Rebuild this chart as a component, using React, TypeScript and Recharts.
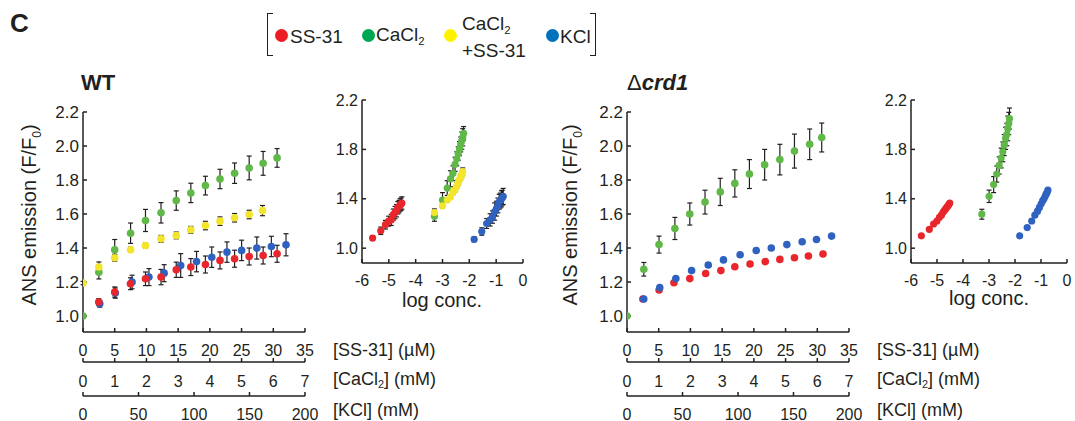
import React from "react";
import { ScatterChart, Scatter, XAxis, YAxis, ErrorBar } from "recharts";

const INK = "#231f20";
const FONT = "'Liberation Sans', Arial, Helvetica, sans-serif";

const RED = "#e8262b";
const GREEN = "#5fb848";
const YELLOW = "#f3e52a";
const BLUE = "#2f62c0";

// ---- WT ----
// SS-31 (µM)
const wtSsConc = [2.48, 5.0, 7.48, 9.85, 12.3, 14.7, 17.0, 19.3, 21.6, 23.9, 26.2, 28.4, 30.6];
const wtSsVal = [1.082, 1.141, 1.19, 1.219, 1.229, 1.272, 1.288, 1.303, 1.327, 1.337, 1.35, 1.356, 1.366];
const wtSsErr = [0.02, 0.03, 0.035, 0.04, 0.045, 0.045, 0.05, 0.05, 0.05, 0.05, 0.05, 0.05, 0.05];
// CaCl2 (mM)
const wtCaConc = [0, 0.5, 1.0, 1.5, 1.97, 2.46, 2.94, 3.4, 3.86, 4.32, 4.78, 5.24, 5.68, 6.12];
const wtCaVal = [1.0, 1.258, 1.39, 1.487, 1.562, 1.607, 1.679, 1.724, 1.767, 1.806, 1.84, 1.871, 1.898, 1.93];
const wtCaErr = [0, 0.04, 0.06, 0.06, 0.065, 0.06, 0.057, 0.057, 0.055, 0.057, 0.06, 0.07, 0.07, 0.055];
// CaCl2 + SS-31 (mM CaCl2)
const wtMixConc = [0, 0.5, 1.0, 1.5, 1.97, 2.46, 2.94, 3.4, 3.86, 4.32, 4.78, 5.24, 5.66];
const wtMixVal = [1.194, 1.288, 1.343, 1.39, 1.415, 1.454, 1.474, 1.507, 1.532, 1.558, 1.578, 1.597, 1.62];
const wtMixErr = [0.01, 0.03, 0.02, 0.015, 0.015, 0.02, 0.02, 0.02, 0.025, 0.025, 0.025, 0.025, 0.03];
// KCl (mM)
const wtKConc = [15.1, 29.1, 44.2, 59.4, 73.1, 88.0, 102.3, 116.0, 129.7, 142.9, 156.6, 169.7, 182.9];
const wtKVal = [1.072, 1.135, 1.2, 1.229, 1.252, 1.297, 1.32, 1.346, 1.376, 1.386, 1.4, 1.409, 1.419];
const wtKErr = [0.02, 0.03, 0.04, 0.05, 0.05, 0.07, 0.06, 0.06, 0.06, 0.06, 0.065, 0.06, 0.065];

// ---- Δcrd1 ----
const crdSsConc = [2.5, 5.06, 7.4, 9.9, 12.4, 14.8, 17.0, 19.4, 21.8, 24.1, 26.4, 28.6, 30.9];
const crdSsVal = [1.1, 1.153, 1.196, 1.22, 1.25, 1.267, 1.29, 1.306, 1.32, 1.333, 1.343, 1.353, 1.365];
const crdSsErr = [0.01, 0.01, 0.01, 0.01, 0.01, 0.01, 0.01, 0.01, 0.01, 0.01, 0.01, 0.01, 0.01];
const crdCaConc = [0, 0.53, 1.01, 1.51, 1.98, 2.46, 2.94, 3.4, 3.86, 4.34, 4.82, 5.28, 5.76, 6.14];
const crdCaVal = [1.0, 1.275, 1.42, 1.515, 1.6, 1.67, 1.73, 1.78, 1.835, 1.89, 1.92, 1.97, 2.01, 2.05];
const crdCaErr = [0, 0.04, 0.05, 0.065, 0.065, 0.07, 0.08, 0.08, 0.085, 0.09, 0.09, 0.1, 0.09, 0.085];
const crdKConc = [15.1, 29.5, 44, 58.2, 73.2, 86.9, 101.9, 116.4, 130, 144, 157.8, 170.7, 184.3];
const crdKVal = [1.1, 1.167, 1.22, 1.267, 1.3, 1.33, 1.36, 1.385, 1.4, 1.42, 1.437, 1.45, 1.47];
const crdKErr = [0.01, 0.01, 0.01, 0.01, 0.01, 0.01, 0.01, 0.01, 0.01, 0.01, 0.01, 0.01, 0.01];

// ---- ticks ----
const ssTicks = [0, 5, 10, 15, 20, 25, 30, 35];
const caTicks = [0, 1, 2, 3, 4, 5, 6, 7];
const kTicks = [0, 50, 100, 150, 200];
const mainYTicks = [1.0, 1.2, 1.4, 1.6, 1.8, 2.0, 2.2];
const insetYTicks = [1.0, 1.4, 1.8, 2.2];
const logTicks = [1e-6, 1e-5, 1e-4, 1e-3, 1e-2, 1e-1, 1];

interface Pt {
  c: number;
  v: number;
  e: number;
}

// axis ids sort in stacking order: a = SS-31 (next to plot), b = CaCl2, c = KCl
interface Series {
  name: string;
  axis: "a" | "b" | "c";
  unit: number; // to molar
  color: string;
  data: Pt[];
}

function toPoints(conc: number[], val: number[], err: number[]): Pt[] {
  return conc.map((c, i) => ({ c, v: val[i], e: err[i] }));
}

const wtSeries: Series[] = [
  { name: "KCl", axis: "c", unit: 1e-3, color: BLUE, data: toPoints(wtKConc, wtKVal, wtKErr) },
  { name: "SS-31", axis: "a", unit: 1e-6, color: RED, data: toPoints(wtSsConc, wtSsVal, wtSsErr) },
  { name: "CaCl2", axis: "b", unit: 1e-3, color: GREEN, data: toPoints(wtCaConc, wtCaVal, wtCaErr) },
  { name: "CaCl2+SS-31", axis: "b", unit: 1e-3, color: YELLOW, data: toPoints(wtMixConc, wtMixVal, wtMixErr) },
];

const crdSeries: Series[] = [
  { name: "SS-31", axis: "a", unit: 1e-6, color: RED, data: toPoints(crdSsConc, crdSsVal, crdSsErr) },
  { name: "KCl", axis: "c", unit: 1e-3, color: BLUE, data: toPoints(crdKConc, crdKVal, crdKErr) },
  { name: "CaCl2", axis: "b", unit: 1e-3, color: GREEN, data: toPoints(crdCaConc, crdCaVal, crdCaErr) },
];

type Layer = "bars" | "dots";

function dot(color: string, r: number) {
  return (p: any) => <circle cx={p.cx} cy={p.cy} r={r} fill={color} />;
}

const noDot = () => <g />;
const noTick = () => <g />;

function xTick(dy: number, fontSize: number, fmt: (v: number) => string) {
  return (p: any) => (
    <g>
      <line x1={p.x} x2={p.x} y1={p.y} y2={p.y - 4} stroke={INK} strokeWidth={1.5} />
      <text
        x={p.x}
        y={p.y + dy}
        textAnchor="middle"
        dominantBaseline="central"
        fontSize={fontSize}
        fontFamily={FONT}
        fill={INK}
      >
        {fmt(p.payload.value)}
      </text>
    </g>
  );
}

function yTick(fontSize: number) {
  return (p: any) => (
    <g>
      <line x1={p.x} x2={p.x + 4} y1={p.y} y2={p.y} stroke={INK} strokeWidth={1.5} />
      <text
        x={p.x - 4}
        y={p.y}
        textAnchor="end"
        dominantBaseline="central"
        fontSize={fontSize}
        fontFamily={FONT}
        fill={INK}
      >
        {Number(p.payload.value).toFixed(1)}
      </text>
    </g>
  );
}

const axisLine = { stroke: INK, strokeWidth: 1.5 };
const plain = (v: number) => String(v);
const logFmt = (v: number) => String(Math.round(Math.log10(v)));

// Each panel is drawn twice on the same spot: the bottom chart carries the axes and
// error bars, the top one (same axes, invisible) carries the markers so they cover the bars.
function renderSeries(series: Series[], layer: Layer, r: number, toData: (s: Series) => any[], withAxis: boolean) {
  return series.map((s) => (
    <Scatter
      key={s.name}
      name={s.name}
      xAxisId={withAxis ? s.axis : 0}
      data={toData(s)}
      fill={s.color}
      shape={layer === "dots" ? dot(s.color, r) : noDot}
      isAnimationActive={false}
    >
      {layer === "bars" && (
        // width is the half-width of the cap
        <ErrorBar dataKey="e" direction="y" width={2.5} stroke={INK} strokeWidth={1.2} isAnimationActive={false} />
      )}
    </Scatter>
  ));
}

function MainChart({ series, layer }: { series: Series[]; layer: Layer }) {
  const show = layer === "bars";
  const xAxes: [string, number[], number, number][] = [
    ["a", ssTicks, 30, 18],
    ["b", caTicks, 34, 19],
    ["c", kTicks, 25, 18],
  ];
  return (
    <div style={{ position: "absolute", left: 0, top: 0 }}>
      <ScatterChart width={325} height={321} margin={{ top: 12, right: 20, left: 0, bottom: 0 }}>
        {xAxes.map(([id, ticks, height, dy]) => (
          <XAxis
            key={id}
            xAxisId={id}
            type="number"
            dataKey="c"
            domain={[0, ticks[ticks.length - 1]]}
            ticks={ticks}
            interval={0}
            height={height}
            tickSize={0}
            tickMargin={0}
            tickLine={false}
            axisLine={show ? axisLine : false}
            tick={show ? xTick(dy, 16, plain) : noTick}
            allowDataOverflow
          />
        ))}
        <YAxis
          type="number"
          dataKey="v"
          domain={[0.906, 2.2]}
          ticks={mainYTicks}
          interval={0}
          width={83}
          tickSize={0}
          tickMargin={0}
          tickLine={false}
          axisLine={show ? axisLine : false}
          tick={show ? yTick(17) : noTick}
          allowDataOverflow
        />
        {renderSeries(series, layer, 3.8, (s) => s.data, true)}
      </ScatterChart>
    </div>
  );
}

function MainPanel({ left, series }: { left: number; series: Series[] }) {
  return (
    <div style={{ position: "absolute", left, top: 100 }}>
      <MainChart series={series} layer="bars" />
      <MainChart series={series} layer="dots" />
    </div>
  );
}

function InsetChart({ plotWidth, series, layer }: { plotWidth: number; series: Series[]; layer: Layer }) {
  const show = layer === "bars";
  const toMolar = (s: Series) =>
    s.data.filter((p) => p.c > 0).map((p) => ({ m: p.c * s.unit, v: p.v, e: p.e }));
  return (
    <div style={{ position: "absolute", left: 0, top: 0 }}>
      <ScatterChart width={40 + plotWidth + 12} height={213} margin={{ top: 10, right: 12, left: 0, bottom: 0 }}>
        <XAxis
          type="number"
          dataKey="m"
          scale="log"
          domain={[1e-6, 1]}
          ticks={logTicks}
          interval={0}
          height={40}
          tickSize={0}
          tickMargin={0}
          tickLine={false}
          axisLine={show ? axisLine : false}
          tick={show ? xTick(17, 16, logFmt) : noTick}
          allowDataOverflow
        />
        <YAxis
          type="number"
          dataKey="v"
          domain={[0.88, 2.2]}
          ticks={insetYTicks}
          interval={0}
          width={40}
          tickSize={0}
          tickMargin={0}
          tickLine={false}
          axisLine={show ? axisLine : false}
          tick={show ? yTick(16) : noTick}
          allowDataOverflow
        />
        {renderSeries(series, layer, 3.6, toMolar, false)}
      </ScatterChart>
    </div>
  );
}

function InsetPanel({ left, plotWidth, series }: { left: number; plotWidth: number; series: Series[] }) {
  return (
    <div style={{ position: "absolute", left, top: 90 }}>
      <InsetChart plotWidth={plotWidth} series={series} layer="bars" />
      <InsetChart plotWidth={plotWidth} series={series} layer="dots" />
    </div>
  );
}

function Txt({
  x,
  y,
  size,
  children,
  anchor = "start",
  bold = false,
}: {
  x: number;
  y: number;
  size: number;
  children: React.ReactNode;
  anchor?: "start" | "middle";
  bold?: boolean;
}) {
  return (
    <div
      style={{
        position: "absolute",
        left: x,
        top: y,
        transform: `translate(${anchor === "middle" ? "-50%" : "0"}, -50%)`,
        fontSize: size,
        lineHeight: 1,
        whiteSpace: "nowrap",
        fontWeight: bold ? 700 : 400,
        color: INK,
      }}
    >
      {children}
    </div>
  );
}

const Sub = ({ children }: { children: React.ReactNode }) => (
  <span style={{ fontSize: "0.6em", verticalAlign: "-0.35em" }}>{children}</span>
);

function YTitle({ x, y }: { x: number; y: number }) {
  return (
    <div
      style={{
        position: "absolute",
        left: x,
        top: y,
        transform: "translate(-50%, -50%) rotate(-90deg)",
        fontSize: 20,
        lineHeight: 1,
        whiteSpace: "nowrap",
        color: INK,
      }}
    >
      ANS emission (F/F<Sub>0</Sub>)
    </div>
  );
}

function UnitLabels({ x }: { x: number }) {
  return (
    <>
      <Txt x={x} y={350} size={18}>[SS-31] (µM)</Txt>
      <Txt x={x} y={380} size={18}>
        [CaCl<Sub>2</Sub>] (mM)
      </Txt>
      <Txt x={x} y={410} size={18}>[KCl] (mM)</Txt>
    </>
  );
}

function LegendDot({ x, color }: { x: number; color: string }) {
  return (
    <div
      style={{
        position: "absolute",
        left: x - 6.5,
        top: 35 - 6.5,
        width: 13,
        height: 13,
        borderRadius: "50%",
        background: color,
      }}
    />
  );
}

function Legend() {
  const bracket = (side: "left" | "right", x: number) => (
    <div
      style={{
        position: "absolute",
        left: x,
        top: 13,
        width: 6,
        height: 43,
        borderTop: `1.5px solid ${INK}`,
        borderBottom: `1.5px solid ${INK}`,
        [side === "left" ? "borderLeft" : "borderRight"]: `1.5px solid ${INK}`,
        boxSizing: "border-box",
      }}
    />
  );
  return (
    <>
      {bracket("left", 267)}
      {bracket("right", 590)}
      <LegendDot x={281} color="#ed1c24" />
      <Txt x={290} y={36} size={19}>SS-31</Txt>
      <LegendDot x={368} color="#00a651" />
      <Txt x={376} y={36} size={19}>
        CaCl<Sub>2</Sub>
      </Txt>
      <LegendDot x={450} color="#fff200" />
      <Txt x={462} y={25} size={19}>
        CaCl<Sub>2</Sub>
      </Txt>
      <Txt x={462} y={50} size={19}>+SS-31</Txt>
      <LegendDot x={552} color="#0072bc" />
      <Txt x={560} y={36} size={19}>KCl</Txt>
    </>
  );
}

export default function App() {
  return (
    <div
      style={{
        position: "absolute",
        left: 0,
        top: 0,
        width: 1075,
        height: 421,
        background: "#fff",
        fontFamily: FONT,
        overflow: "hidden",
      }}
    >
      <Txt x={10} y={23} size={26} bold>
        C
      </Txt>
      <Legend />

      <Txt x={81} y={83} size={22} bold>
        WT
      </Txt>
      <Txt x={627} y={83} size={22} bold>
        <span style={{ fontWeight: 400 }}>Δ</span>
        <span style={{ fontStyle: "italic" }}>crd1</span>
      </Txt>

      <YTitle x={31} y={215} />
      <YTitle x={572} y={215} />

      <MainPanel left={0} series={wtSeries} />
      <MainPanel left={544} series={crdSeries} />

      <InsetPanel left={322} plotWidth={161} series={wtSeries} />
      <InsetPanel left={871} plotWidth={156} series={crdSeries} />

      <Txt x={442} y={300} size={20} anchor="middle">
        log conc.
      </Txt>
      <Txt x={989} y={298} size={20} anchor="middle">
        log conc.
      </Txt>

      <UnitLabels x={333} />
      <UnitLabels x={877} />
    </div>
  );
}
